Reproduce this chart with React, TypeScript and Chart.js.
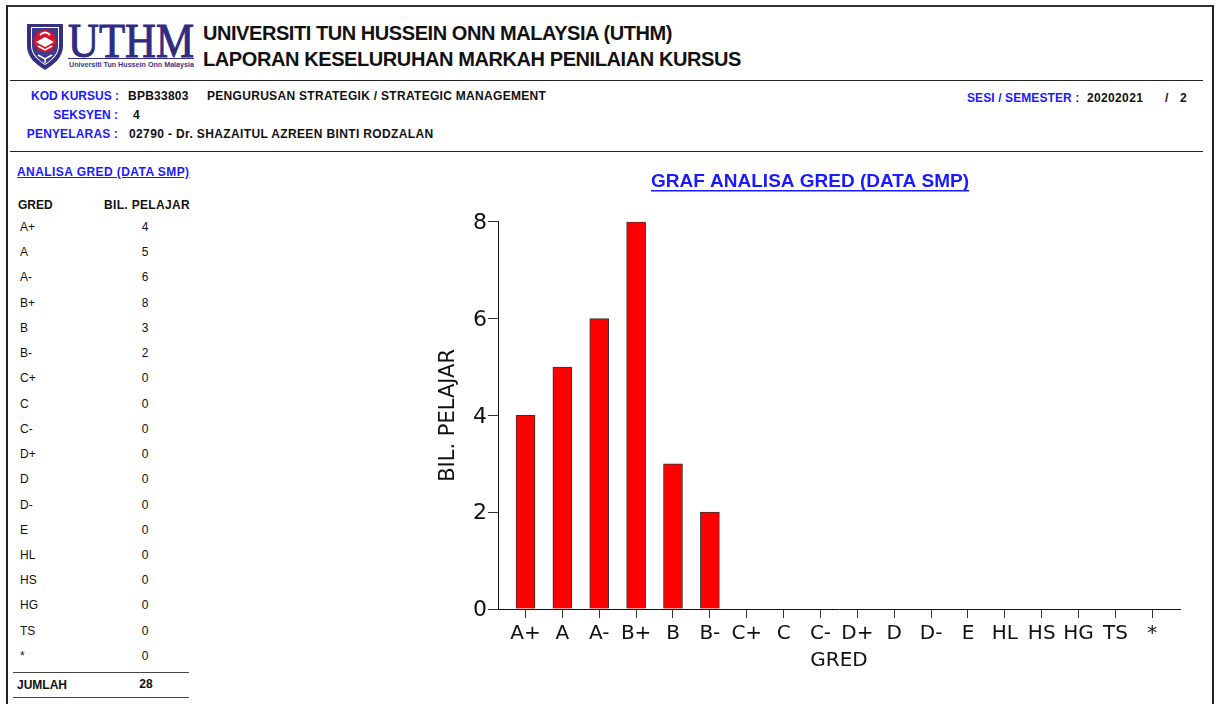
import React, { useEffect, useRef } from "react";
import { Chart, registerables } from "chart.js";

Chart.register(...registerables);

const grades = ["A+", "A", "A-", "B+", "B", "B-", "C+", "C", "C-", "D+", "D", "D-", "E", "HL", "HS", "HG", "TS", "*"];
const students = [4, 5, 6, 8, 3, 2, 0, 0, 0, 0, 0, 0, 0, 0, 0, 0, 0, 0];
const total = 28;
const chartTitle = "GRAF ANALISA GRED (DATA SMP)";
const yTitle = "BIL. PELAJAR";
const xTitle = "GRED";

const SANS = "'Liberation Sans', Arial, sans-serif";
const BLUE = "#1a1aff";
const INK = "#111";

type TProps = { x?: number; r?: number; cx?: number; y: number; size?: number; color?: string; bold?: boolean; u?: boolean; ls?: number; children: React.ReactNode };

function T({ x, r, cx, y, size = 12, color = INK, bold = true, u = false, ls = 0, children }: TProps) {
  const style: React.CSSProperties = {
    position: "absolute",
    top: y - 10,
    height: 20,
    lineHeight: "20px",
    fontFamily: SANS,
    fontSize: size,
    fontWeight: bold ? 700 : 400,
    color,
    whiteSpace: "nowrap",
    letterSpacing: ls,
    textDecoration: u ? "underline" : "none",
  };
  if (x !== undefined) style.left = x;
  if (r !== undefined) style.right = 1218 - r;
  if (cx !== undefined) {
    style.left = cx;
    style.transform = "translateX(-50%)";
  }
  return <div style={style}>{children}</div>;
}

function Rule({ x, y, w, h = 1, c = "#222" }: { x: number; y: number; w: number; h?: number; c?: string }) {
  return <div style={{ position: "absolute", left: x, top: y, width: w, height: h, background: c }} />;
}

function Logo() {
  return (
    <svg style={{ position: "absolute", left: 25, top: 22, width: 172, height: 50 }} viewBox="0 0 172 50">
      <path d="M2 2 H38 V24 C38 36 28 43 20 48 C12 43 2 36 2 24 Z" fill="#34307f" />
      <path d="M6 5 H34 V24 C34 33 26 39 20 43 C14 39 6 33 6 24 Z" fill="#ffffff" />
      <path d="M7 6 H33 V24 C33 32 26 38 20 42 C14 38 7 32 7 24 Z" fill="#3f3a8c" />
      <circle cx="20" cy="19" r="11" fill="#d8142a" />
      <path d="M11 20 L20 15 L29 20 L20 25 Z" fill="#ffffff" />
      <path d="M13 24 L20 28 L27 24" stroke="#ffffff" strokeWidth="1.5" fill="none" />
      <path d="M15 13 Q20 8 25 13" stroke="#ffffff" strokeWidth="1.8" fill="none" />
      <path d="M13 33 L20 37 L27 33 M20 37 V41" stroke="#ffffff" strokeWidth="1.5" fill="none" />
      <text x="43" y="35" textLength="126" lengthAdjust="spacingAndGlyphs" fontFamily="'Liberation Serif', serif" fontSize="49" fill="#2f2b80" stroke="#2f2b80" strokeWidth="1">UTHM</text>
      <rect x="43" y="36" width="126" height="1" fill="#2f2b80" />
      <text x="44" y="44.5" textLength="125" lengthAdjust="spacingAndGlyphs" fontFamily={SANS} fontWeight="700" fontSize="7.5" fill="#3a3688">Universiti Tun Hussein Onn Malaysia</text>
    </svg>
  );
}

const underlinePlugin = {
  id: "titleUnderline",
  afterDraw(chart: any) {
    const t = chart.titleBlock;
    if (!t || !t.options.display) return;
    const ctx = chart.ctx;
    ctx.save();
    ctx.font = "bold 19px 'Liberation Sans'";
    const w = ctx.measureText(chartTitle).width;
    const cx = (t.left + t.right) / 2;
    const y = t.top + t.options.padding.top + 20;
    ctx.fillStyle = BLUE;
    ctx.fillRect(cx - w / 2, y, w, 1.5);
    ctx.restore();
  },
};

export default function App() {
  const ref = useRef<HTMLCanvasElement>(null);

  useEffect(() => {
    if (!ref.current) return;
    const chart = new Chart(ref.current, {
      type: "bar",
      data: {
        datasets: [
          {
            data: students.map((v, i) => ({ x: i, y: v })),
            backgroundColor: "#ff0000",
            borderColor: "#333333",
            borderWidth: 1,
            barThickness: 19,
          },
        ],
      },
      options: {
        responsive: false,
        animation: false,
        layout: { padding: 0 },
        plugins: {
          legend: { display: false },
          tooltip: { enabled: false },
          title: {
            display: true,
            text: chartTitle,
            color: BLUE,
            font: { family: "'Liberation Sans'", size: 19, weight: "bold" },
            padding: { top: 5, bottom: 29 },
          },
        },
        scales: {
          x: {
            type: "linear",
            offset: false,
            min: -0.746,
            max: 17.75,
            afterBuildTicks: (axis: any) => {
              axis.ticks = grades.map((_, i) => ({ value: i }));
            },
            afterFit: (axis: any) => {
              axis.height = 64;
              axis.paddingRight = 4;
              axis.paddingLeft = 0;
            },
            grid: { offset: false, drawOnChartArea: false, drawTicks: true, tickLength: 9, color: "#333", lineWidth: 1 },
            border: { color: "#111", width: 1 },
            ticks: {
              autoSkip: false,
              maxRotation: 0,
              minRotation: 0,
              padding: 4,
              color: "#111",
              font: { family: "'DejaVu Sans'", size: 20 },
              callback: (v: any) => grades[Number(v)] ?? "",
            },
            title: {
              display: true,
              text: xTitle,
              color: "#111",
              font: { family: "'DejaVu Sans'", size: 20 },
              padding: { top: 0, bottom: 0 },
            },
          },
          y: {
            min: 0,
            max: 8,
            afterFit: (axis: any) => {
              axis.width = 62;
            },
            grid: { drawOnChartArea: false, drawTicks: true, tickLength: 10, color: "#333", lineWidth: 1 },
            border: { color: "#111", width: 1 },
            ticks: {
              stepSize: 2,
              padding: 1,
              labelOffset: 1.5,
              color: "#111",
              font: { family: "'DejaVu Sans'", size: 22 },
            },
            title: {
              display: true,
              text: yTitle,
              color: "#111",
              font: { family: "'DejaVu Sans'", size: 21 },
              padding: { top: 0, bottom: 0 },
            },
          },
        },
      } as any,
      plugins: [underlinePlugin],
    });
    return () => chart.destroy();
  }, []);

  const rowY = (i: number) => 227 + i * 25.23;

  return (
    <div style={{ position: "absolute", left: 0, top: 0, width: 1218, height: 704, background: "#fff", overflow: "hidden" }}>
      <Rule x={6} y={5} w={1208} h={2} c="#333" />
      <Rule x={6} y={5} w={2} h={699} c="#222" />
      <Rule x={1212} y={5} w={2} h={699} c="#222" />

      <Logo />
      <T x={203} y={33} size={20} ls={-0.44}>UNIVERSITI TUN HUSSEIN ONN MALAYSIA (UTHM)</T>
      <T x={203} y={59} size={20} ls={-0.41}>LAPORAN KESELURUHAN MARKAH PENILAIAN KURSUS</T>
      <Rule x={10} y={80} w={1193} />

      <T r={119} y={96} color={BLUE}>KOD KURSUS :</T>
      <T x={128} y={96} ls={0.25}>BPB33803</T>
      <T x={207} y={96} ls={0.3}>PENGURUSAN STRATEGIK / STRATEGIC MANAGEMENT</T>
      <T r={118} y={115} color={BLUE}>SEKSYEN :</T>
      <T x={133} y={115}>4</T>
      <T r={118} y={134} color={BLUE} ls={0.15}>PENYELARAS :</T>
      <T x={129} y={134} ls={0.37}>02790 - Dr. SHAZAITUL AZREEN BINTI RODZALAN</T>
      <T x={967} y={98} color={BLUE} ls={0.1}>SESI / SEMESTER :</T>
      <T x={1087} y={98} ls={0.35}>20202021</T>
      <T x={1165} y={98}>/</T>
      <T x={1180} y={98}>2</T>
      <Rule x={10} y={151} w={1193} />

      <T x={17} y={172} color={BLUE} u ls={0.43}>ANALISA GRED (DATA SMP)</T>
      <T x={18} y={205}>GRED</T>
      <T x={104} y={205} ls={0.33}>BIL. PELAJAR</T>
      {grades.map((g, i) => (
        <React.Fragment key={g}>
          <T x={20} y={rowY(i)} bold={false}>{g}</T>
          <T cx={145} y={rowY(i)} bold={false}>{students[i]}</T>
        </React.Fragment>
      ))}
      <Rule x={13} y={672} w={176} c="#444" />
      <T x={17} y={685}>JUMLAH</T>
      <T cx={146} y={684}>{total}</T>
      <Rule x={13} y={697} w={176} c="#444" />

      <canvas ref={ref} width={748} height={508} style={{ position: "absolute", left: 436, top: 165, width: 748, height: 508 }} />
    </div>
  );
}
